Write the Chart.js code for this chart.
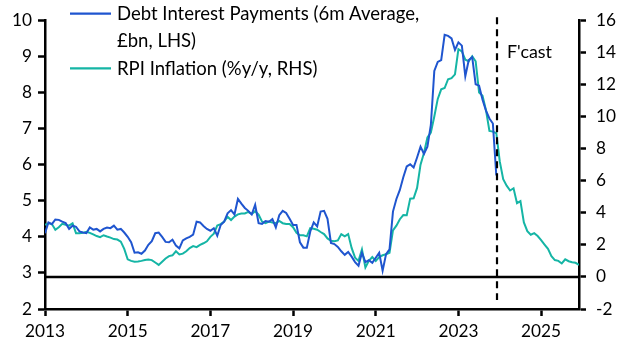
<!DOCTYPE html>
<html><head><meta charset="utf-8">
<script src="https://cdn.jsdelivr.net/npm/chart.js@4"></script>
<style>html,body{margin:0;padding:0;background:#fff;} #wrap{width:627px;height:352px;position:relative;}</style>
</head><body><div id="wrap"><canvas id="c" width="627" height="352"></canvas></div>
<script>
// ---- data (monthly, starting Jan 2013) ----
const startYear = 2013;
const xTickYears = [2013, 2015, 2017, 2019, 2021, 2023, 2025];
const leftTicks = [2, 3, 4, 5, 6, 7, 8, 9, 10];
const rightTicks = [-2, 0, 2, 4, 6, 8, 10, 12, 14, 16];
const lastMonthIndex = 155; // Dec 2025
const forecastMonthIndex = 131.2; // Dec 2023

// Debt interest payments, 6m average, £bn (LHS), Jan 2013 - Dec 2023
const debtInterest = [
  4.10, 4.40, 4.35, 4.48, 4.47, 4.42, 4.38, 4.22, 4.31, 4.28, 4.15, 4.12,
  4.10, 4.26, 4.20, 4.22, 4.15, 4.22, 4.26, 4.24, 4.31, 4.20, 4.22, 4.12,
  4.00, 3.85, 3.56, 3.57, 3.53, 3.62, 3.78, 3.88, 4.10, 4.12, 4.00, 3.86,
  3.85, 3.92, 3.76, 3.68, 3.90, 3.96, 4.00, 4.06, 4.42, 4.40, 4.30, 4.22,
  4.17, 4.24, 4.03, 4.33, 4.42, 4.65, 4.74, 4.62, 5.05, 4.92, 4.80, 4.72,
  4.62, 4.89, 4.38, 4.36, 4.44, 4.42, 4.49, 4.26, 4.60, 4.72, 4.66, 4.50,
  4.33, 4.33, 3.85, 3.70, 3.70, 4.15, 4.40, 4.29, 4.70, 4.72, 4.50, 3.83,
  3.80, 3.72, 3.60, 3.50, 3.58, 3.45, 3.30, 3.20, 3.56, 3.30, 3.35, 3.28,
  3.42, 3.56, 3.06, 3.52, 3.65, 4.70, 5.05, 5.30, 5.65, 5.95, 6.01, 5.92,
  6.20, 6.50, 6.30, 6.50, 7.10, 8.60, 8.85, 8.90, 9.60, 9.57, 9.50, 9.18,
  9.39, 9.30, 8.45, 8.90, 8.98, 8.23, 8.19, 7.80, 7.50, 7.28, 7.14, 5.70
];

// RPI inflation, %y/y (RHS), Jan 2013 - Dec 2025 (forecast from Dec 2023)
const rpiInflation = [
  3.25, 3.35, 3.30, 2.94, 3.10, 3.31, 3.25, 3.20, 3.35, 2.73, 2.73, 2.75,
  2.82, 2.75, 2.65, 2.55, 2.48, 2.60, 2.52, 2.45, 2.36, 2.33, 2.20, 1.75,
  1.10, 1.00, 0.95, 0.96, 1.00, 1.05, 1.08, 1.05, 0.90, 0.75, 0.95, 1.15,
  1.30, 1.35, 1.60, 1.40, 1.45, 1.60, 1.80, 1.92, 1.86, 2.00, 2.10, 2.22,
  2.50, 2.70, 3.20, 3.29, 3.45, 3.75, 3.55, 3.76, 3.90, 3.96, 3.96, 4.06,
  3.92, 4.10, 3.88, 3.45, 3.35, 3.45, 3.40, 3.35, 3.49, 3.35, 3.30, 3.30,
  3.10, 2.75, 2.60, 2.60, 2.53, 3.04, 3.00, 2.94, 2.80, 2.67, 2.40, 2.25,
  2.22, 2.28, 2.67, 2.53, 2.67, 1.81, 1.20, 1.00, 1.71, 0.59, 1.00, 1.24,
  1.00, 1.24, 1.35, 1.41, 1.51, 2.90, 3.20, 3.60, 3.86, 3.85, 4.88, 4.90,
  5.55, 7.00, 7.73, 8.70, 9.00, 10.00, 11.10, 11.70, 11.78, 12.33, 12.40, 12.63,
  14.20, 14.06, 13.55, 13.45, 13.76, 13.45, 11.50, 11.30, 10.40, 9.10, 9.06, 8.96,
  7.20, 6.10, 5.69, 5.39, 5.53, 4.60, 4.73, 3.40, 2.85, 2.63, 2.73, 2.55,
  2.30, 2.02, 1.75, 1.30, 1.05, 1.00, 0.84, 1.10, 0.98, 0.92, 0.88, 0.75
];

const seriesNames = [["Debt Interest Payments (6m Average,", "£bn, LHS)"], ["RPI Inflation (%y/y, RHS)"]];
const forecastLabel = "F'cast";

// ---- styles ----
const blue = '#1f55cf';
const teal = '#15b5a5';
const fontFamily = 'Lato, "Noto Sans", sans-serif';

// size fonts so text spans match the reference widths
const mctx = document.createElement('canvas').getContext('2d');
const widthAt = (t, s) => { mctx.font = s + 'px ' + fontFamily; return mctx.measureText(t).width; };
const fitSize = (texts, target) => {
  const w = texts.reduce((a, t) => a + widthAt(t, 20), 0);
  return Math.max(14, Math.min(22, 20 * target / w));
};
const legendSize = fitSize([seriesNames[0][0], seriesNames[1][0]], 305 + 198);
const tickSize = fitSize(['2013'], 40);
const fcastSize = fitSize([forecastLabel], 45);

const toYear = i => startYear + i / 12;
const debtPoints = debtInterest.map((v, i) => ({x: toYear(i), y: v}));
const rpiPoints = rpiInflation.map((v, i) => ({x: toYear(i), y: v}));

const overlay = {
  id: 'overlay',
  beforeDatasetsDraw(chart) {
    const {ctx, chartArea, scales} = chart;
    const y0 = scales.y1.getPixelForValue(0);
    ctx.save();
    ctx.strokeStyle = '#000';
    ctx.lineWidth = 2.5;
    ctx.beginPath();
    ctx.moveTo(chartArea.left, y0);
    ctx.lineTo(chartArea.right, y0);
    ctx.stroke();
    ctx.restore();
  },
  afterDatasetsDraw(chart) {
    const {ctx, chartArea, scales} = chart;
    ctx.save();
    // forecast divider
    const fx = scales.x.getPixelForValue(toYear(forecastMonthIndex));
    ctx.strokeStyle = '#000';
    ctx.lineWidth = 2.2;
    ctx.setLineDash([7, 5]);
    ctx.beginPath();
    ctx.moveTo(fx, chartArea.top - 3);
    ctx.lineTo(fx, chartArea.bottom - 9);
    ctx.stroke();
    ctx.setLineDash([]);
    ctx.fillStyle = '#000';
    ctx.textBaseline = 'alphabetic';
    ctx.textAlign = 'left';
    ctx.font = fcastSize + 'px ' + fontFamily;
    ctx.fillText(forecastLabel, fx + 10, 58);
    // legend
    ctx.font = legendSize + 'px ' + fontFamily;
    const items = [
      {color: blue, lines: seriesNames[0], y: 13.7},
      {color: teal, lines: seriesNames[1], y: 68.3}
    ];
    ctx.lineWidth = 2.2;
    items.forEach(it => {
      ctx.strokeStyle = it.color;
      ctx.beginPath();
      ctx.moveTo(70, it.y);
      ctx.lineTo(111, it.y);
      ctx.stroke();
      it.lines.forEach((t, k) => {
        ctx.fillText(t, 117, it.y + 6.3 + k * 26.7);
      });
    });
    ctx.restore();
  }
};

const axisBorder = {display: true, color: '#000', width: 2.5};
const tickFont = {family: fontFamily, size: tickSize};

new Chart(document.getElementById('c'), {
  type: 'line',
  data: {
    datasets: [
      {label: seriesNames[0].join(' '), data: debtPoints, yAxisID: 'y', borderColor: blue, borderWidth: 2, pointRadius: 0, tension: 0, fill: false},
      {label: seriesNames[1].join(' '), data: rpiPoints, yAxisID: 'y1', borderColor: teal, borderWidth: 2, pointRadius: 0, tension: 0, fill: false}
    ]
  },
  options: {
    responsive: false,
    animation: false,
    devicePixelRatio: 1,
    layout: {padding: {top: 15, left: 0, right: 0, bottom: 0}},
    plugins: {legend: {display: false}, tooltip: {enabled: false}},
    scales: {
      x: {
        type: 'linear',
        min: toYear(0),
        max: toYear(lastMonthIndex),
        border: axisBorder,
        grid: {drawOnChartArea: false, drawTicks: true, tickLength: 7, tickColor: '#000', tickWidth: 2.5},
        ticks: {font: tickFont, color: '#000', padding: 5, maxRotation: 0, autoSkip: false, callback: v => String(v)},
        afterBuildTicks: s => { s.ticks = xTickYears.map(v => ({value: v})); },
        afterFit: s => { s.height = 43; }
      },
      y: {
        type: 'linear',
        position: 'left',
        min: leftTicks[0],
        max: leftTicks[leftTicks.length - 1],
        border: axisBorder,
        grid: {drawOnChartArea: false, drawTicks: true, tickLength: 7, tickColor: '#000', tickWidth: 2.5},
        ticks: {font: tickFont, color: '#000', padding: 6, callback: v => String(v)},
        afterBuildTicks: s => { s.ticks = leftTicks.map(v => ({value: v})); },
        afterFit: s => { s.width = 45; }
      },
      y1: {
        type: 'linear',
        position: 'right',
        min: rightTicks[0],
        max: rightTicks[rightTicks.length - 1],
        border: axisBorder,
        grid: {drawOnChartArea: false, drawTicks: true, tickLength: 7, tickColor: '#000', tickWidth: 2.5},
        ticks: {font: tickFont, color: '#000', padding: 10, callback: v => String(v)},
        afterBuildTicks: s => { s.ticks = rightTicks.map(v => ({value: v})); },
        afterFit: s => { s.width = 48; }
      }
    }
  },
  plugins: [overlay]
});
</script>
</body></html>
